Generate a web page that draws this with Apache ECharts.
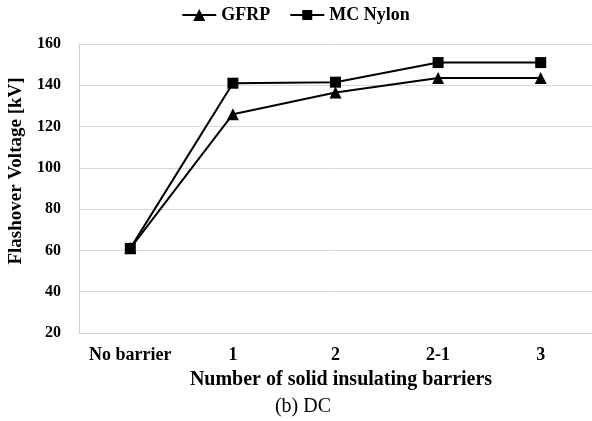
<!DOCTYPE html>
<html><head><meta charset="utf-8">
<script src="https://cdn.jsdelivr.net/npm/echarts@6/dist/echarts.min.js"></script>
<style>html,body{margin:0;padding:0;background:#fff}#c{width:592px;height:421px}</style>
</head><body><div id="c"></div>
<script>
const categories = ['No barrier', '1', '2', '2-1', '3'];
const gfrp = [61, 126, 136.5, 143.5, 143.5];
const mcNylon = [61, 141, 141.5, 151, 151];
const yTicks = {min: 20, max: 160, interval: 20};

const font = 'Liberation Serif, Times New Roman, serif';
const triIcon = 'path://M0,5 L34,5 L34,7 L0,7 Z M11,12 L17,0 L23,12 Z';
const sqIcon = 'path://M0,5 L34,5 L34,7 L0,7 Z M12,1 L22,1 L22,11 L12,11 Z';
const chart = echarts.init(document.getElementById('c'));
chart.setOption({
  animation: false,
  backgroundColor: '#fff',
  textStyle: {fontFamily: font},
  legend: {
    top: 1, left: 'center', itemGap: 20, itemWidth: 34, itemHeight: 12,
    textStyle: {fontFamily: font, fontWeight: 'bold', fontSize: 18, color: '#000'},
    itemStyle: {color: '#000'},
    data: [{name: 'GFRP', icon: triIcon}, {name: 'MC Nylon', icon: sqIcon}]
  },
  grid: {left: 79, right: 0, top: 44, bottom: 88},
  xAxis: {
    type: 'category', data: categories, boundaryGap: true,
    axisLine: {lineStyle: {color: '#d0d0d0', width: 1}},
    axisTick: {show: false},
    axisLabel: {interval: 0, fontFamily: font, fontWeight: 'bold', fontSize: 18, color: '#000', margin: 13}
  },
  yAxis: {
    type: 'value', min: yTicks.min, max: yTicks.max, interval: yTicks.interval,
    axisLine: {show: true, lineStyle: {color: '#d0d0d0', width: 1}},
    axisTick: {show: false},
    splitLine: {lineStyle: {color: '#d9d9d9', width: 1}},
    axisLabel: {fontFamily: font, fontWeight: 'bold', fontSize: 16, color: '#000', margin: 18}
  },
  graphic: [{
    type: 'text', x: 16, y: 171, rotation: Math.PI / 2,
    style: {text: 'Flashover Voltage [kV]', font: 'bold 19px ' + font, fill: '#000', align: 'center', verticalAlign: 'middle'}
  }, {
    type: 'text', x: 341, y: 380,
    style: {text: 'Number of solid insulating barriers', font: 'bold 20px ' + font, fill: '#000', align: 'center', verticalAlign: 'middle'}
  }, {
    type: 'text', x: 303, y: 407,
    style: {text: '(b) DC', font: '20px ' + font, fill: '#000', align: 'center', verticalAlign: 'middle'}
  }],
  series: [
    {name: 'GFRP', type: 'line', data: gfrp, symbol: 'triangle', symbolSize: 12,
     lineStyle: {color: '#000', width: 2}, itemStyle: {color: '#000'}},
    {name: 'MC Nylon', type: 'line', data: mcNylon, symbol: 'rect', symbolSize: 11,
     lineStyle: {color: '#000', width: 2}, itemStyle: {color: '#000'}}
  ]
});
</script></body></html>
